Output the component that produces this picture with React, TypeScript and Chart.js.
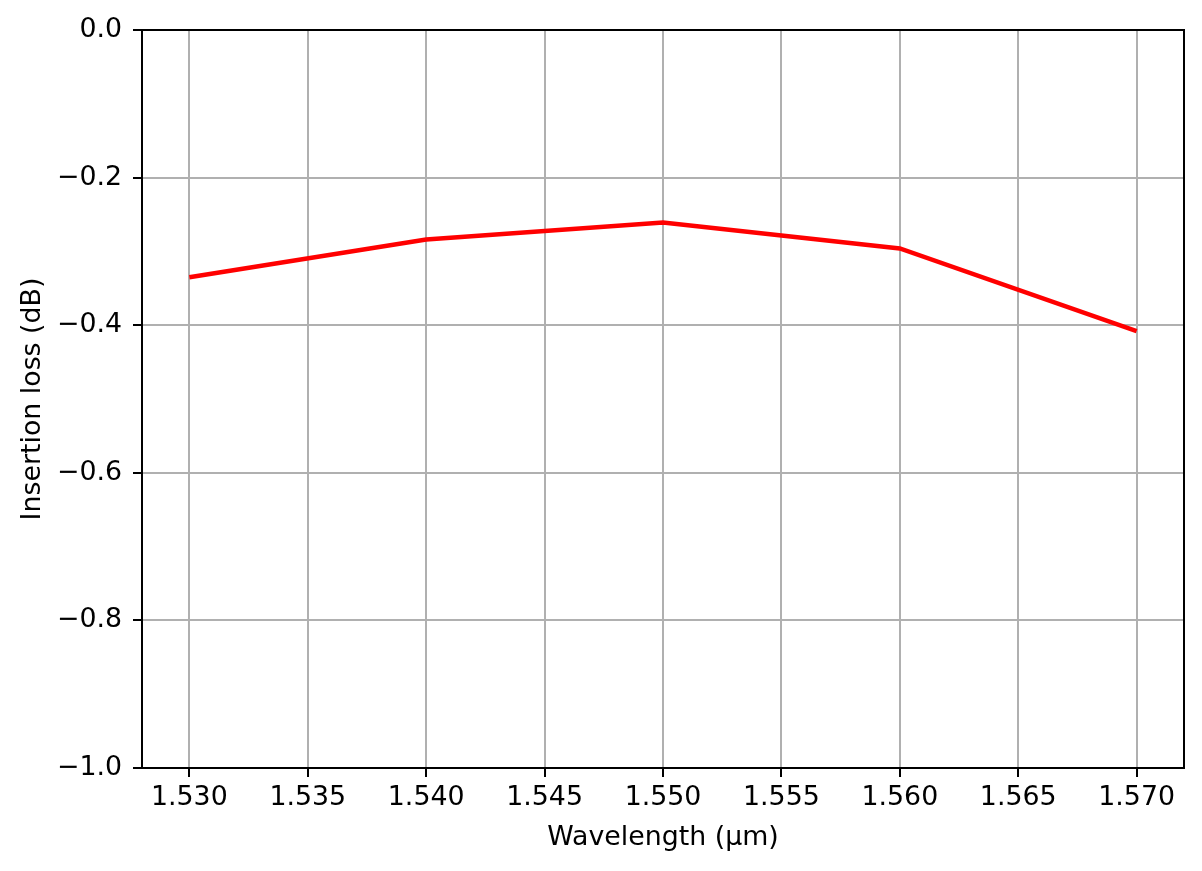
import React, { useEffect, useRef } from "react";
import { Chart, registerables } from "chart.js";

Chart.register(...registerables);

const wavelengths = [1.53, 1.54, 1.55, 1.56, 1.57];
const insertionLoss = [-0.335, -0.284, -0.261, -0.296, -0.408];
const xTicks = [1.53, 1.535, 1.54, 1.545, 1.55, 1.555, 1.56, 1.565, 1.57];
const yTicks = [0, -0.2, -0.4, -0.6, -0.8, -1.0];
const xLabel = "Wavelength (µm)";
const yLabel = "Insertion loss (dB)";

const FONT = "'DejaVu Sans', sans-serif";
const FS = 26.8;

const boxPlugin = {
  id: "boxPlugin",
  afterDraw(chart: any) {
    const { ctx, chartArea } = chart;
    ctx.save();
    ctx.strokeStyle = "#000";
    ctx.lineWidth = 2;
    ctx.strokeRect(chartArea.left, chartArea.top, chartArea.right - chartArea.left, chartArea.bottom - chartArea.top);
    ctx.restore();
  },
};

export default function App() {
  const ref = useRef<HTMLCanvasElement>(null);
  useEffect(() => {
    if (!ref.current) return;
    const chart = new Chart(ref.current, {
      type: "line",
      data: {
        datasets: [
          {
            data: wavelengths.map((x, i) => ({ x, y: insertionLoss[i] })),
            borderColor: "#ff0000",
            borderWidth: 4.5,
            pointRadius: 0,
            tension: 0,
            fill: false,
          },
        ],
      },
      options: {
        responsive: false,
        animation: false,
        layout: { padding: { left: 0, right: 18, top: 30, bottom: 0 } },
        plugins: { legend: { display: false }, tooltip: { enabled: false } },
        scales: {
          x: {
            type: "linear",
            min: 1.528,
            max: 1.572,
            afterBuildTicks: (s: any) => {
              s.ticks = xTicks.map((v) => ({ value: v }));
            },
            afterFit: (s: any) => {
              s.height = 103;
            },
            border: { display: false },
            grid: {
              color: "#b0b0b0",
              lineWidth: 2,
              tickColor: "#000",
              tickWidth: 2,
              tickLength: 9,
            },
            ticks: {
              color: "#000",
              font: { family: FONT, size: FS },
              padding: 5,
              maxRotation: 0,
              autoSkip: false,
              callback: (v: any) => Number(v).toFixed(3),
            },
            title: {
              display: true,
              text: xLabel,
              color: "#000",
              font: { family: FONT, size: FS },
              padding: { top: 0, bottom: 17 },
            },
          },
          y: {
            type: "linear",
            min: -1,
            max: 0,
            afterBuildTicks: (s: any) => {
              s.ticks = yTicks.map((v) => ({ value: v }));
            },
            afterFit: (s: any) => {
              s.width = 142;
            },
            border: { display: false },
            grid: {
              color: "#b0b0b0",
              lineWidth: 2,
              tickColor: "#000",
              tickWidth: 2,
              tickLength: 9,
            },
            ticks: {
              color: "#000",
              font: { family: FONT, size: FS },
              padding: 11,
              autoSkip: false,
              callback: (v: any) => {
                const n = Number(v);
                return n === 0 ? "0.0" : "\u2212" + Math.abs(n).toFixed(1);
              },
            },
            title: {
              display: true,
              text: yLabel,
              color: "#000",
              font: { family: FONT, size: FS },
              padding: { top: 17, bottom: 0 },
            },
          },
        },
      },
      plugins: [boxPlugin],
    });
    return () => chart.destroy();
  }, []);
  return (
    <div style={{ position: "fixed", left: 0, top: 0, width: 1202, height: 871, background: "#fff" }}>
      <canvas ref={ref} width={1202} height={871} style={{ width: 1202, height: 871, display: "block" }} />
    </div>
  );
}
